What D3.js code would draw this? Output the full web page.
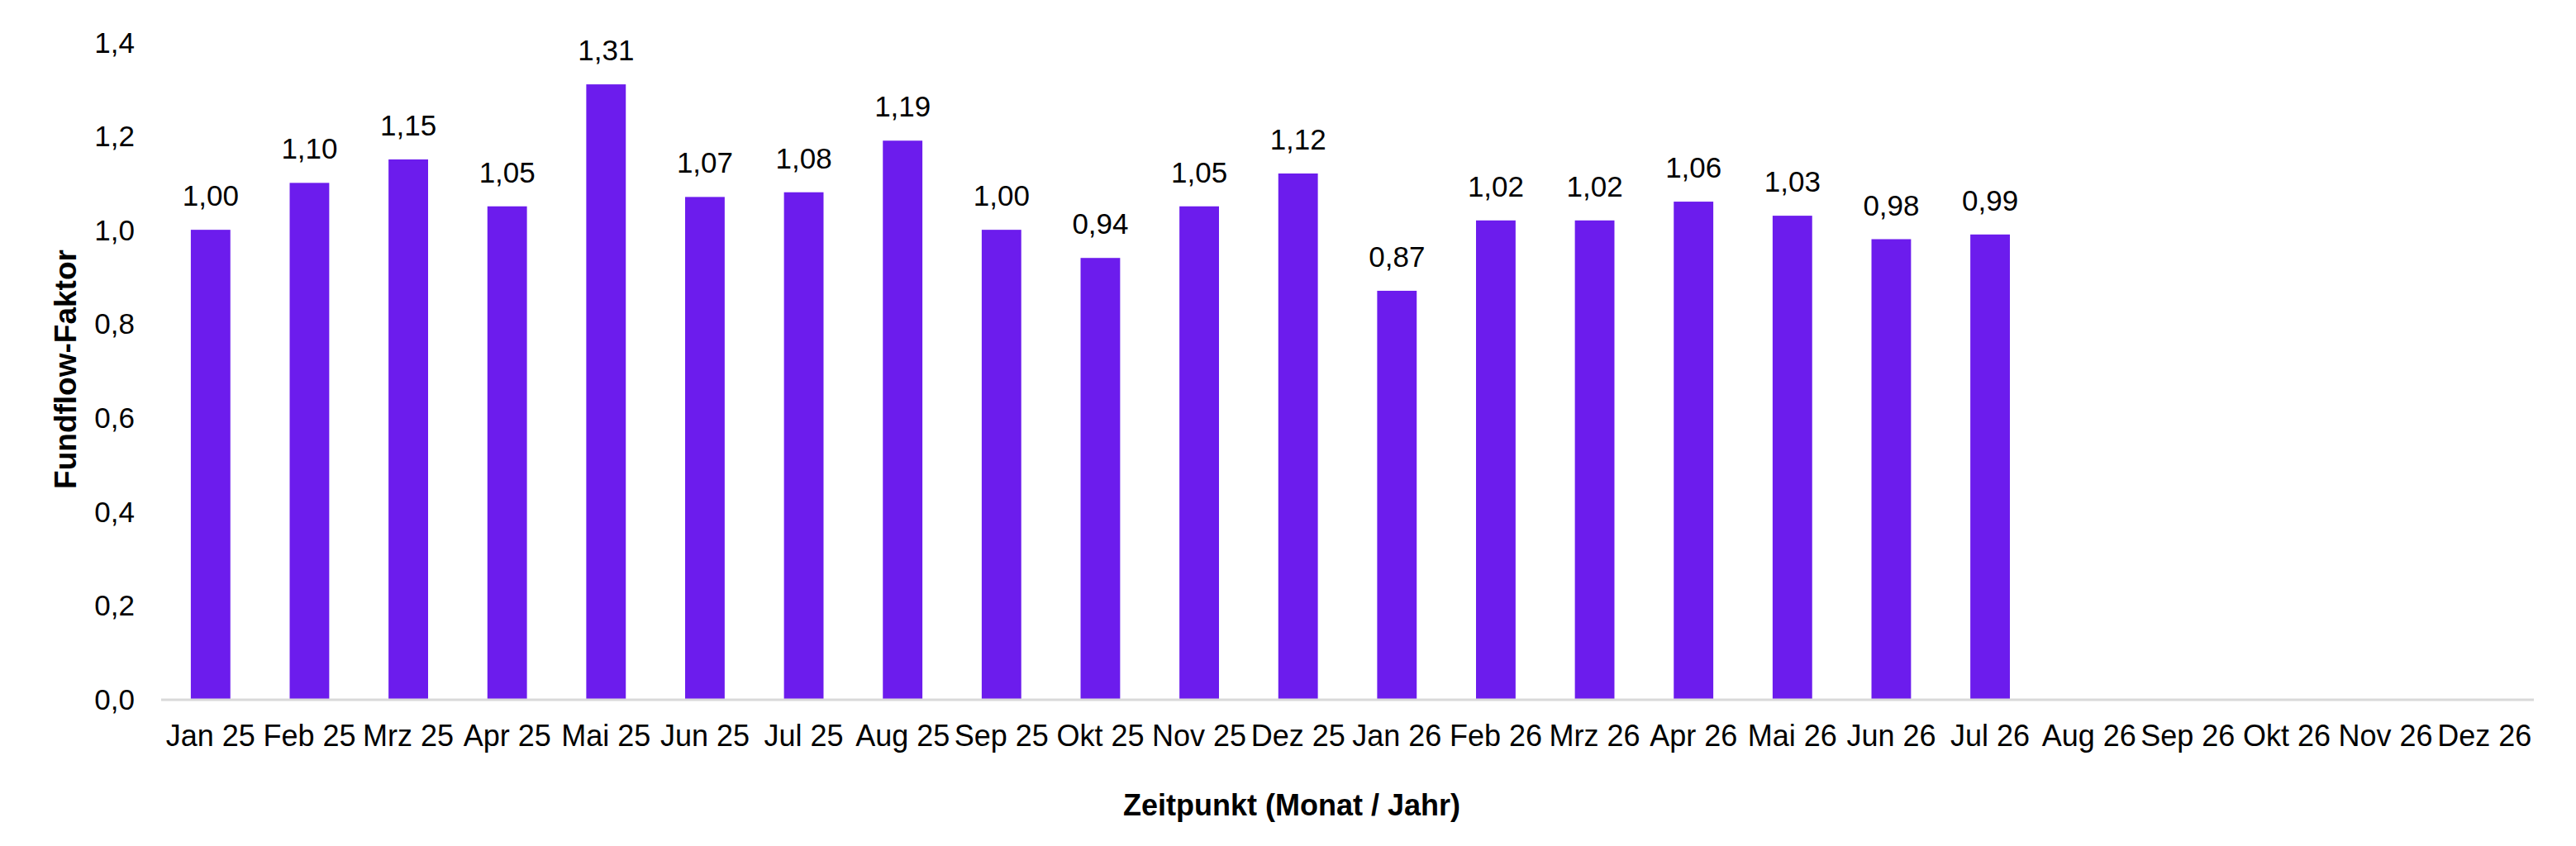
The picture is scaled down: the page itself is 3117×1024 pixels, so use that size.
<!DOCTYPE html>
<html>
<head>
<meta charset="utf-8">
<script src="https://cdn.jsdelivr.net/npm/d3@7"></script>
<style>
  html, body { margin: 0; padding: 0; background: #ffffff; }
  svg { display: block; }
  text { font-family: "Liberation Sans", Arial, sans-serif; fill: #000; }
</style>
</head>
<body>
<svg id="chart" width="3117" height="1024"></svg>
<script>
const categories = ["Jan 25","Feb 25","Mrz 25","Apr 25","Mai 25","Jun 25","Jul 25","Aug 25","Sep 25","Okt 25","Nov 25","Dez 25",
                    "Jan 26","Feb 26","Mrz 26","Apr 26","Mai 26","Jun 26","Jul 26","Aug 26","Sep 26","Okt 26","Nov 26","Dez 26"];
const values = [1.00,1.10,1.15,1.05,1.31,1.07,1.08,1.19,1.00,0.94,1.05,1.12,
                0.87,1.02,1.02,1.06,1.03,0.98,0.99,null,null,null,null,null];
const yTicks = [0,0.2,0.4,0.6,0.8,1.0,1.2,1.4];
const yTitle = "Fundflow-Faktor";
const xTitle = "Zeitpunkt (Monat / Jahr)";

const svg = d3.select("#chart");
const plotLeft = 195, plotRight = 3066, plotTop = 51, plotBottom = 846;
const fmt1 = d => d.toFixed(1).replace(".", ",");
const fmt2 = d => d.toFixed(2).replace(".", ",");

const x = d3.scaleBand().domain(categories).range([plotLeft, plotRight]).paddingInner(0.6).paddingOuter(0.3);
const y = d3.scaleLinear().domain([0, 1.4]).range([plotBottom, plotTop]);

const data = categories.map((c, i) => ({c, v: values[i]})).filter(d => d.v != null);

svg.append("g").selectAll("rect").data(data).join("rect")
  .attr("x", d => x(d.c)).attr("width", x.bandwidth())
  .attr("y", d => y(d.v)).attr("height", d => y(0) - y(d.v))
  .attr("fill", "#6c1ced");

svg.append("g").selectAll("text").data(data).join("text")
  .attr("x", d => x(d.c) + x.bandwidth() / 2)
  .attr("y", d => y(d.v) - 29)
  .attr("text-anchor", "middle")
  .attr("font-size", 35)
  .text(d => fmt2(d.v));

// Y axis labels
const yAxis = d3.axisLeft(y).tickValues(yTicks).tickFormat(fmt1).tickSize(0).tickPadding(0);
const yg = svg.append("g").attr("transform", "translate(163,0)").call(yAxis);
yg.select(".domain").remove();
yg.selectAll("text").attr("font-size", 35).attr("font-family", "Liberation Sans, Arial, sans-serif").attr("fill", "#000").attr("dy", "0.35em");

// X axis
const xAxis = d3.axisBottom(x).tickSize(0).tickPadding(0).tickSizeOuter(0);
const xg = svg.append("g").attr("transform", `translate(0,${plotBottom})`).call(xAxis);
xg.select(".domain").remove();
xg.selectAll("text").attr("font-size", 36).attr("font-family", "Liberation Sans, Arial, sans-serif").attr("fill", "#000").attr("dy", null).attr("y", 57);

svg.append("line").attr("x1", plotLeft).attr("x2", plotRight).attr("y1", plotBottom + 1).attr("y2", plotBottom + 1)
  .attr("stroke", "#d9d9d9").attr("stroke-width", 3);

// Titles
svg.append("text").attr("transform", `translate(92,447) rotate(-90)`)
  .attr("text-anchor", "middle").attr("font-size", 37).attr("font-weight", "bold").text(yTitle);
svg.append("text").attr("x", 1563).attr("y", 987)
  .attr("text-anchor", "middle").attr("font-size", 36).attr("font-weight", "bold").text(xTitle);
</script>
</body>
</html>
